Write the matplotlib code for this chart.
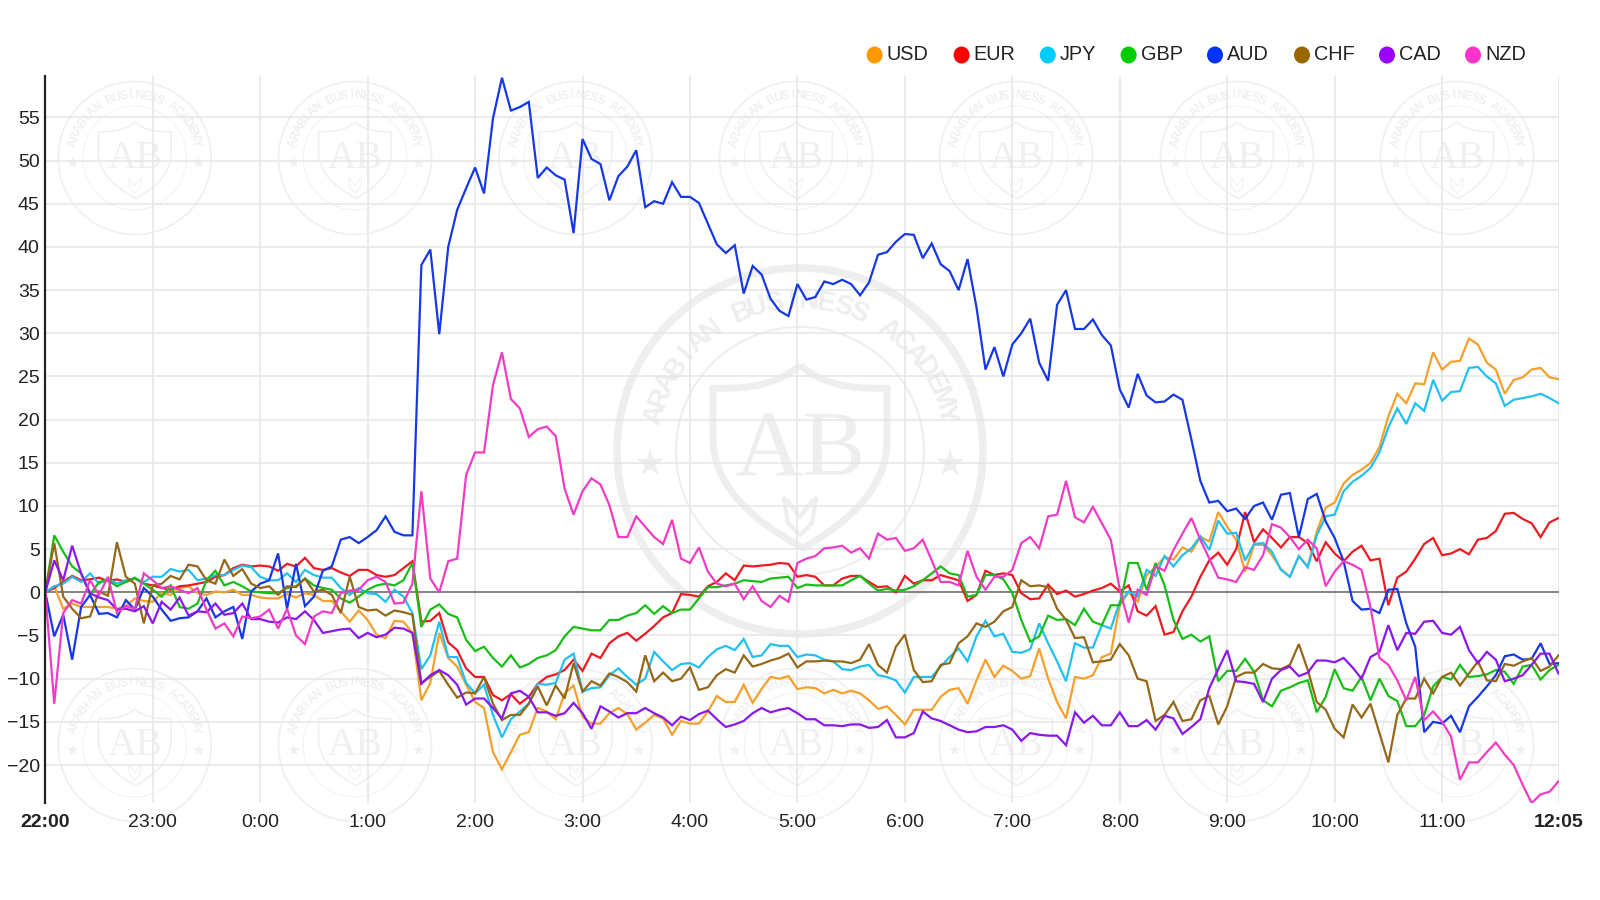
import numpy as np
import matplotlib
matplotlib.use("Agg")
import matplotlib.pyplot as plt
from matplotlib.patches import Circle, PathPatch, Ellipse
from matplotlib.path import Path

plt.rcParams['font.family'] = ['Liberation Sans', 'DejaVu Sans']

usd = [0,0.7,-1.9,-1.3,-1.7,-1.7,-1.7,-1.7,-1.9,-1.6,-0.7,-1,-1.1,-0.1,-0.3,0.5,0.7,-0.1,-0.3,0.1,
       0,0.3,-0.3,-0.3,-0.6,-0.7,-0.7,-0.2,-0.6,-0.1,-0.3,-1,-1,-2.2,-3.4,-2.1,-3.2,-4.9,-5.3,-3.3,
       -3.4,-4.7,-12.5,-10.5,-4.7,-7.6,-8.6,-10.7,-12.7,-13.4,-18.5,-20.5,-18.5,-16.5,-16.2,-13.4,-13.8,-14.7,-11.7,-10.8,
       -14.4,-15.2,-15.2,-14,-13.4,-14.1,-15.9,-15.1,-14.2,-14.6,-16.5,-14.9,-15.2,-15.2,-13.8,-12,-12.7,-12.7,-10.7,-12.8,
       -11.2,-9.8,-10,-9.7,-11.2,-11,-11.1,-11.7,-11.3,-11.7,-11.4,-11.7,-12.5,-13.5,-13.2,-14.2,-15.3,-13.6,-13.6,-13.6,
       -12.1,-11.3,-11.1,-12.9,-10.2,-7.8,-9.8,-8.5,-9.1,-10,-9.7,-6.5,-10,-12.7,-14.6,-9.8,-10,-9.6,-7.5,-7.1,
       -1.5,0,-1.1,2,2.9,4.1,3.8,5.2,4.7,6.4,5.9,9.3,7.6,6.1,2.4,5.5,5.5,4.3,2.7,1.8,
       4.2,3,7,9.8,10.4,12.6,13.6,14.2,15,16.8,20.4,23,21.9,24.2,24.1,27.8,25.8,26.7,26.8,29.4,
       28.7,26.6,25.8,23,24.6,24.9,25.8,26,24.9,24.7]
eur = [0,0.5,1.2,1.9,1.4,1.5,1.7,1.3,1.5,1.2,1.6,1,0.8,0.5,0.3,0.7,0.8,1,1.2,1.8,
       2,2.8,3.2,3,3.1,3,2.5,3.3,3,4,2.8,2.6,2.8,2.3,1.9,2.6,2.6,2,1.8,2,
       2.8,3.6,-3.4,-3.3,-2.4,-5.8,-6.7,-8.8,-9.8,-9.8,-11.9,-12.5,-11.8,-12.9,-12.1,-10.6,-9.8,-9.5,-9,-7.8,
       -9.1,-7.1,-7.6,-5.9,-5.1,-4.7,-5.6,-4.8,-3.9,-2.9,-2.4,-0.2,-0.3,-0.5,0.7,1.2,2.2,1.4,3.1,3,
       3.1,3.2,3.4,3.3,1.8,2,1.8,0.8,0.8,1.6,1.9,1.9,1.2,0.6,0.7,0,1.9,1,1.4,1.4,
       2,1.7,1.4,-1,-0.3,2.5,2,2.2,2,-0.1,-0.8,-0.7,0.9,-0.2,0.2,-0.5,-0.2,0.2,0.5,1,
       0.1,0.8,-2.2,-2.7,-1.6,-4.9,-4.6,-2.2,-0.5,1.8,3.7,4.6,3.2,5,9.3,5.8,7.3,6.3,5.2,6.4,
       6.4,5.7,3.6,5.8,4.5,3.6,4.7,5.4,3.7,3.9,-1.5,1.7,2.4,3.9,5.6,6.3,4.3,4.5,5,4.4,
       6.1,6.3,7.1,9.1,9.2,8.5,8,6.4,8.1,8.6]
jpy = [0,0.7,1,1.8,1.2,2.2,1,1.6,1,1.4,1.6,1.2,1.8,1.8,2.7,2.4,2.6,1.4,1.6,2,
       2,2.6,3.1,2.9,1.8,1.4,1.4,2.2,1.2,2.6,2,1.7,1.7,0.5,-0.3,0.5,-0.1,-0.2,-1.1,0.3,
       -0.5,-2.4,-8.9,-7.3,-3.4,-7.5,-7.5,-10.5,-11.7,-10.7,-14.2,-16.8,-14.7,-13.8,-12.9,-10.6,-10.7,-10.5,-7.8,-7.1,
       -11.5,-11.1,-11,-9.6,-8.8,-9.8,-10.7,-10,-6.9,-8,-9,-8.3,-8.2,-8.7,-7.5,-6.6,-6.2,-6.7,-5.4,-7.5,
       -7.3,-6,-6.2,-6.2,-7.5,-7.2,-7.3,-7.8,-8,-8.9,-9,-8.6,-8.4,-9.6,-9.8,-10.2,-11.6,-9.8,-9.8,-9.8,
       -8.6,-7.5,-6.5,-8,-5.1,-3.3,-5.1,-4.8,-6.9,-7,-6.6,-3.6,-5.9,-8,-10.3,-5.9,-6.4,-6.4,-3.8,-4.2,
       -1.1,0.1,-0.5,2.6,1.9,4.2,3,4.3,5.1,6.5,4.9,8.3,6.8,6.9,3.7,5.6,5.7,4.7,2.6,1.8,
       4.2,2.9,6.6,8.8,9,11.7,12.8,13.5,14.4,16.2,19.1,21.3,19.5,21.9,21,24.6,22.2,23.2,23.3,26,
       26.1,25,24.2,21.6,22.3,22.5,22.7,23,22.5,21.9]
gbp = [0,6.6,4.7,3,2.2,-0.3,1.2,1.4,0.7,1.2,1.7,1,0.3,-0.5,0.8,-1.7,-1.9,-1.3,1.4,2.5,
       0.8,1.2,0.7,0.1,0,-0.1,-0.1,0.5,0.7,1.6,0.8,0.5,0.3,-0.7,-1.2,-0.5,0.3,0.8,1,0.8,
       1.4,3.4,-4,-2,-1.4,-2.5,-2.9,-5.5,-6.8,-6.3,-7.6,-8.6,-7.3,-8.7,-8.3,-7.6,-7.3,-6.7,-5.1,-4,
       -4.2,-4.4,-4.4,-3.2,-3.2,-2.7,-2.4,-1.5,-2.5,-1.6,-2.4,-2,-2,-0.7,0.6,0.6,0.8,1,1.4,1.3,
       1.2,1.6,1.7,1.8,0.5,0.9,0.8,0.8,0.8,0.8,1.4,1.9,1,0.2,0.4,0.2,0.3,0.7,1.4,2.2,
       3,2.2,2,-0.5,-0.3,2,2,1.5,-0.1,-3.2,-5.7,-5.1,-2.7,-3.2,-3.1,-3.8,-1.9,-3.4,-3.8,-1.5,
       -1.5,3.4,3.4,0.3,3.4,0.8,-3.2,-5.4,-4.9,-5.7,-5.1,-10.3,-9.1,-9.1,-7.7,-9.2,-12.5,-13.2,-11.4,-11,
       -10.5,-10.2,-13.9,-12.1,-8.9,-11.1,-11.4,-9.8,-12.5,-10,-12,-12.6,-15.5,-15.5,-14.2,-10.9,-9.8,-10.1,-8.4,-9.8,
       -9.7,-9.5,-9,-9.2,-10.6,-8.6,-8.4,-10.1,-9,-8.4]
aud = [0,-5.1,-2.6,-7.8,-1.7,-0.3,-2.5,-2.4,-2.9,-0.9,-2,0.5,-0.5,-2,-3.3,-3,-2.9,-2.2,-0.7,-2.9,
       -2.2,-1.7,-5.4,0.1,1,1.4,4.5,-1.9,3.3,-1.6,-0.5,2.5,3,6.1,6.4,5.7,6.4,7.2,8.8,7,
       6.6,6.6,37.9,39.7,29.9,40,44.3,46.8,49.2,46.2,54.9,59.6,55.8,56.2,56.8,48,49.2,48.3,47.8,41.6,
       52.5,50.2,49.6,45.4,48.2,49.3,51.2,44.6,45.3,45,47.5,45.8,45.8,45.1,42.7,40.3,39.3,40.2,34.6,37.8,
       36.8,34,32.6,32,35.7,33.9,34.2,36,35.7,36.2,35.7,34.4,35.9,39.1,39.4,40.6,41.5,41.4,38.7,40.4,
       38,37.2,35,38.6,33,25.8,28.4,25,28.7,30,31.7,26.6,24.5,33.3,35,30.5,30.5,31.6,29.8,28.6,
       23.5,21.4,25.3,22.8,22,22.1,22.9,22.3,17.7,12.9,10.4,10.6,9.4,9.7,8.5,10,10.4,8.4,11.3,11.5,
       6.4,10.8,11.4,8.2,6.3,3.6,-1,-2,-1.9,-2.4,0.3,0.4,-3.6,-6.3,-16.2,-15,-15.2,-14.3,-16.2,-13.2,
       -12.1,-10.9,-9.6,-7.4,-7.2,-7.8,-7.7,-5.9,-8.3,-8.2]
chf = [0,5.7,-0.5,-1.9,-3,-2.8,0.1,-0.4,5.8,1.8,1,-3.6,0.8,1,1.9,1.5,3.2,3,1.4,1,
       3.8,1.9,2.7,1,0.5,0.7,-0.3,0.7,0.6,1.6,0.1,0.3,-0.3,-2.4,1.8,-1.7,-2.1,-2,-2.7,-2.1,
       -2.3,-2.6,-10.5,-9.8,-9.1,-10.7,-12.2,-11.6,-11.7,-9.8,-12.9,-14.8,-14.2,-14.2,-12.9,-10.9,-13.1,-10.8,-12.3,-8.2,
       -11.5,-10.3,-10.8,-9.4,-9.8,-10.4,-11.5,-7.3,-10.3,-9.3,-10.3,-10,-8.7,-11.3,-11,-9.6,-8.9,-9.3,-7.3,-8.6,
       -8.3,-7.9,-7.6,-7.1,-8.7,-8,-8,-7.9,-8,-8,-8.2,-7.8,-6,-8.4,-9.3,-6.3,-4.9,-9,-10.4,-10.3,
       -8.4,-8.2,-5.9,-5.1,-3.6,-4,-3.4,-2.2,-1.7,1.4,0.7,0.8,0.6,-1.9,-3.2,-5.3,-5.2,-8.1,-8,-7.8,
       -6,-7.3,-10,-10.3,-14.9,-14.2,-12.7,-14.9,-14.7,-12.5,-12,-15.3,-13.2,-9.8,-9.3,-9.3,-8.3,-8.8,-8.9,-8.4,
       -6,-9,-12.7,-13.6,-15.8,-16.8,-13,-14.5,-12.9,-16.3,-19.7,-14.2,-12.3,-12.3,-10,-11.7,-9.8,-9.3,-10.8,-9.4,
       -8,-10.2,-10.3,-8.3,-8.5,-8,-7.6,-9.1,-8.6,-7.3]
cad = [0,3.7,1.4,5.4,2.2,-0.1,-0.6,-0.9,-2,-1.9,-2.2,-1.6,-3.6,-1.1,-2,-0.6,-2.7,-2.2,-2.3,-1.3,
       -2.6,-2.4,-1.3,-3.1,-3.1,-3.4,-3.5,-2.9,-3.1,-2.2,-3.2,-4.7,-4.5,-4.3,-4.2,-5.3,-4.7,-5.2,-4.9,-4.1,
       -4.2,-4.7,-10.6,-9.6,-9,-9.6,-10.7,-13,-12.3,-12.3,-13.4,-14.6,-11.7,-11.4,-12.1,-13.9,-13.9,-14.3,-14,-12.8,
       -14,-15.8,-13.2,-13.8,-14.5,-14,-14,-13.4,-14,-14.5,-15.4,-14.4,-14.8,-14.1,-13.7,-14.7,-15.6,-15.3,-14.9,-14,
       -13.4,-13.9,-13.6,-13.4,-14,-14.7,-14.7,-15.4,-15.4,-15.5,-15.3,-15.3,-15.7,-15.6,-14.8,-16.8,-16.8,-16.3,-13.8,-14.6,
       -14.9,-15.4,-15.9,-16.2,-16.1,-15.6,-15.6,-15.4,-15.9,-17.2,-16.3,-16.5,-16.6,-16.6,-17.7,-13.9,-15.1,-14.3,-15.4,-15.4,
       -13.9,-15.5,-15.5,-14.8,-15.9,-14.3,-14.6,-16.4,-15.6,-14.7,-11.1,-8.9,-6.7,-10.3,-10.4,-10.6,-12.7,-10,-9,-8.6,
       -9.7,-9.3,-7.9,-7.9,-8.1,-7.6,-8.7,-10,-7.5,-6.9,-3.8,-6.7,-4.7,-4.8,-3.4,-3.3,-4.7,-4.9,-4,-6.7,
       -8.2,-6.9,-7.8,-10.3,-10,-9.6,-8.4,-7.1,-7.1,-9.4]
nzd = [0,-12.9,-2.4,-0.9,-1.3,1.4,-0.3,1.8,-2.4,-1.6,-1.9,2.2,1.4,0.5,0.7,0.3,-0.1,0.5,-2,-4.2,
       -3.6,-5.1,-2.8,-3,-2.8,-2,-4.2,-1.9,-5,-6,-2.8,-2.2,-2.4,-0.1,0.2,0.3,1.4,1.8,1.2,-1.3,
       -1.2,1,11.7,1.6,0,3.6,3.9,13.6,16.2,16.2,24,27.8,22.4,21.3,18,18.9,19.2,18.1,12,9,
       11.7,13.2,12.5,10.1,6.4,6.4,8.8,7.6,6.4,5.6,8.4,3.9,3.4,5.2,2.4,1,0.7,1,-0.8,0.7,
       -1,-1.7,-0.4,-1.1,3.4,3.9,4.2,5.1,5.2,5.4,4.6,5.1,3.9,6.8,6.1,6.3,4.8,5.1,6.1,3.7,
       1.2,1.2,0.8,4.8,1.8,0.3,1.8,1.8,2.6,5.7,6.4,5.1,8.8,9,12.9,8.7,8.1,9.9,8,6.1,
       0.3,-3.5,0.3,-0.3,3,2.5,4.9,6.8,8.6,6.1,3.9,1.7,1.5,1.2,2.9,2.6,4.3,7.9,7.5,6.4,
       5,6.1,5.1,0.7,2.4,3.6,3.2,2.6,-1.7,-7.6,-8.4,-10.2,-12.5,-9.8,-14.8,-13.8,-15,-16.7,-21.7,-19.7,
       -19.7,-18.5,-17.4,-18.8,-20,-22.3,-24.4,-23.4,-23.1,-21.9]

names = ['USD', 'EUR', 'JPY', 'GBP', 'AUD', 'CHF', 'CAD', 'NZD']
series = [usd, eur, jpy, gbp, aud, chf, cad, nzd]
line_colors = ['#f5a02c', '#ee1a22', '#22c0f0', '#18bd18', '#1638e6', '#946818', '#8a18ea', '#f03cc4']
dot_colors = ['#ff9900', '#ff0000', '#00ccff', '#00cc00', '#0033ff', '#996600', '#9900ff', '#ff33cc']
hour_labels = ['22:00', '23:00', '0:00', '1:00', '2:00', '3:00', '4:00', '5:00',
               '6:00', '7:00', '8:00', '9:00', '10:00', '11:00']
y_ticks = [-20, -15, -10, -5, 0, 5, 10, 15, 20, 25, 30, 35, 40, 45, 50, 55]
W, H = 1600, 900


def badge(ax, cx, cy, r, col, thin=1.0):
    # watermark drawn in pixel coords, everything scales with the radius
    s = r / 183.0
    ax.add_patch(Circle((cx, cy), r, fill=False, ec=col, lw=5.5 * s * thin))
    ax.add_patch(Circle((cx, cy), 124 * s, fill=False, ec=col, lw=1.5 * s))
    pts = [(0, -86), (28, -60), (87, -63), (87, -10), (87, 50), (3, 97),
           (-85, 50), (-87, -10), (-87, -63), (-28, -60), (0, -86)]
    codes = [Path.MOVETO, Path.CURVE3, Path.CURVE3, Path.LINETO, Path.CURVE3, Path.CURVE3,
             Path.CURVE3, Path.CURVE3, Path.LINETO, Path.CURVE3, Path.CURVE3]
    verts = [(cx + a * s, cy + b * s) for a, b in pts]
    ax.add_patch(PathPatch(Path(verts, codes), fill=False, ec=col, lw=5 * s * thin, joinstyle='round'))
    ax.text(cx, cy + 2 * s, 'AB', family='Liberation Serif', fontsize=68 * s, color=col,
            ha='center', va='center')
    word = 'ARABIAN BUSINESS ACADEMY'
    angs = np.linspace(166, 14, len(word))
    for ch, a in zip(word, angs):
        t = np.radians(a)
        ax.text(cx + 150 * s * np.cos(t), cy - 150 * s * np.sin(t), ch, fontsize=20 * s,
                fontweight='bold', color=col, ha='center', va='center', rotation=a - 90)
    for side in (-1, 1):
        ax.text(cx + side * 150 * s, cy + 14 * s, '\u2605', family='DejaVu Sans', fontsize=26 * s,
                color=col, ha='center', va='center')
    # little crown mark under the letters
    ax.plot([cx + a * s for a in (-16, -12, 0, 12, 16)],
            [cy + b * s for b in (48, 72, 84, 72, 48)], color=col, lw=3 * s * thin)
    ax.plot([cx + a * s for a in (-12, 0, 12)], [cy + b * s for b in (50, 66, 50)], color=col, lw=3 * s * thin)


fig = plt.figure(figsize=(16, 9), dpi=100, facecolor='white')

bg = fig.add_axes([0, 0, 1, 1], zorder=0)
bg.set_xlim(0, W)
bg.set_ylim(H, 0)
bg.axis('off')
for cx in (134.7, 355, 575.5, 796, 1016, 1237, 1457):
    for cy in (158, 745):
        badge(bg, cx, cy, 76.5, '#f0f0f0', thin=0.55)
badge(bg, 800, 451, 183, '#eeeeee')

left, right, top, bottom = 45.3, 1558.5, 76, 803
ax = fig.add_axes([left / W, 1 - bottom / H, (right - left) / W, (bottom - top) / H], zorder=1)
ax.patch.set_alpha(0)

minutes = np.arange(len(usd)) * 5
hour_ticks = list(np.arange(len(hour_labels)) * 60)
ax.set_xlim(0, minutes[-1])
ax.set_ylim(-24.4, 59.8)

ax.set_yticks(y_ticks)
ax.set_xticks(hour_ticks + [minutes[-1]])
ax.set_xticklabels(hour_labels + ['12:05'], fontsize=14)
ax.get_xticklabels()[0].set_fontweight('bold')
ax.get_xticklabels()[-1].set_fontweight('bold')
ax.grid(True, color='#e6e6e6', lw=1.1)
ax.set_axisbelow(True)
ax.tick_params(axis='both', length=0, labelsize=14, labelcolor='#222222')
ax.tick_params(axis='x', pad=8)
ax.tick_params(axis='y', pad=4)
for side in ('top', 'right', 'bottom'):
    ax.spines[side].set_visible(False)
ax.spines['left'].set_color('#222222')
ax.spines['left'].set_linewidth(1.6)
ax.axhline(0, color='#666666', lw=1.1, zorder=1.5)

for vals, c, n in zip(series, line_colors, names):
    ax.plot(minutes, vals, color=c, lw=1.6, label=n, solid_joinstyle='miter')

# legend placed by hand, matches the row of dots above the plot
dot_x = [874.6, 961.6, 1047.8, 1128.6, 1215, 1302, 1387, 1473]
for n, c, x in zip(names, dot_colors, dot_x):
    bg.add_patch(Ellipse((x, 55), 16, 17, color=c, lw=0))
    bg.text(x + 12, 55, n, fontsize=14.3, color='#222222', ha='left', va='center')

fig.savefig('out.png', dpi=100)
